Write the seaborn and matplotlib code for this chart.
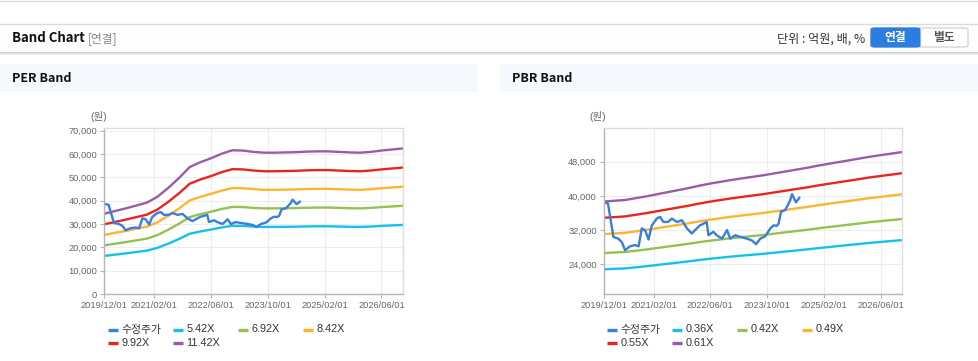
import pandas as pd
import matplotlib.pyplot as plt
import seaborn as sns
from matplotlib.lines import Line2D
from matplotlib.patches import Rectangle, FancyBboxPatch
from matplotlib.ticker import FuncFormatter

# ------------------------------
# Data
# ------------------------------
band_dates = pd.date_range("2019-12-01", "2026-12-01", freq="3MS")

# per-share base used by the bands (quarterly)
eps = [3010, 3110, 3210, 3320, 3430, 3650, 3980, 4350, 4760, 4940,
       5090, 5260, 5390, 5380, 5330, 5300, 5300, 5310, 5320, 5340,
       5350, 5350, 5330, 5310, 5300, 5330, 5380, 5420, 5460]
bps = [63400, 63700, 64000, 64700, 65400, 66200, 67000, 67800, 68600, 69500,
       70300, 71000, 71700, 72300, 72900, 73500, 74200, 74900, 75600, 76300,
       77100, 77800, 78500, 79200, 79900, 80600, 81200, 81800, 82400]

per_multiples = [5.42, 6.92, 8.42, 9.92, 11.42]
pbr_multiples = [0.36, 0.42, 0.49, 0.55, 0.61]

price_dates = ["2019-12-01", "2020-01-07", "2020-02-22", "2020-04-04", "2020-05-04",
               "2020-06-01", "2020-07-13", "2020-08-25", "2020-09-25", "2020-10-22",
               "2020-11-19", "2020-12-19", "2021-01-16", "2021-02-28", "2021-03-28",
               "2021-04-25", "2021-06-04", "2021-07-07", "2021-08-19", "2021-10-01",
               "2021-11-13", "2021-12-25", "2022-01-22", "2022-03-04", "2022-04-04",
               "2022-05-01", "2022-05-16", "2022-06-28", "2022-07-25", "2022-09-10",
               "2022-10-22", "2022-11-19", "2023-01-01", "2023-02-13", "2023-04-10",
               "2023-05-22", "2023-06-28", "2023-08-04", "2023-09-16", "2023-10-28",
               "2023-11-25", "2023-12-22", "2024-01-07", "2024-01-28", "2024-03-04",
               "2024-04-16", "2024-05-01", "2024-06-04", "2024-07-04"]
price = [38600, 38200, 30400, 30000, 29200, 27300, 28200, 28500, 28200, 32400,
         32000, 29800, 33100, 34700, 35100, 33900, 33900, 34700, 33900, 34300,
         32400, 31200, 32000, 33100, 33500, 33900, 30800, 31600, 30800, 30000,
         32000, 30000, 30800, 30400, 30000, 29600, 28700, 30000, 30600, 32400,
         33100, 33000, 33500, 36300, 36700, 39000, 40400, 38500, 39600]

tick_dates = ["2019-12-01", "2021-02-01", "2022-06-01", "2023-10-01", "2025-02-01", "2026-06-01"]
tick_labels = ["2019/12/01", "2021/02/01", "2022/06/01", "2023/10/01", "2025/02/01", "2026/06/01"]

band_colors = ["#17c0ea", "#93c24e", "#fdb42f", "#e8251d", "#9a5ba8"]
price_color = "#3a7ddc"

# ------------------------------
# Figure setup
# ------------------------------
sns.set_theme(style="white")
plt.rcParams["font.family"] = ["Liberation Sans", "Noto Sans CJK KR", "DejaVu Sans"]

W, H = 979, 361
fig = plt.figure(figsize=(W / 100, H / 100), dpi=100)


def fx(x):
    return x / W


def fy(y):
    return 1 - y / H


def rect(x0, y0, x1, y1, **kw):
    fig.add_artist(Rectangle((fx(x0), fy(y1)), fx(x1 - x0), (y1 - y0) / H,
                             transform=fig.transFigure, **kw))


# page chrome
fig.add_artist(Line2D([0, 1], [fy(0.5)] * 2, color="#dddddd", lw=1))
fig.add_artist(Line2D([0, 1], [fy(23.5)] * 2, color="#dcdcdc", lw=1))
rect(0, 24, W, 52, color="#fdfdfd", lw=0)
rect(0, 52, W, 53, color="#cfcfcf", lw=0)
rect(0, 53, W, 54, color="#e3e3e3", lw=0)
rect(0, 54, W, 55, color="#f1f1f1", lw=0)

hdr = ["Noto Sans CJK KR", "DejaVu Sans"]
fig.text(fx(12), fy(38), "Band Chart", family=hdr, weight="bold", size=9.5,
         color="#111111", va="center")
fig.text(fx(88), fy(39), "[연결]", family=hdr, size=8.5, color="#888888", va="center")
fig.text(fx(865), fy(39), "단위 : 억원, 배, %", family=hdr, size=8.7, color="#333333",
         va="center", ha="right")

fig.add_artist(FancyBboxPatch((fx(871), fy(47)), fx(97), 19 / H,
                              boxstyle="round,pad=0,rounding_size=0.004",
                              transform=fig.transFigure, fc="white", ec="#cccccc", lw=0.8))
fig.add_artist(FancyBboxPatch((fx(871), fy(47)), fx(49), 19 / H,
                              boxstyle="round,pad=0,rounding_size=0.004",
                              transform=fig.transFigure, fc="#2b7de1", ec="#2b7de1", lw=0.8))
fig.text(fx(895.5), fy(38), "연결", family=hdr, weight="bold", size=8.5, color="white",
         ha="center", va="center")
fig.text(fx(944), fy(38), "별도", family=hdr, weight="bold", size=8.5, color="#555555",
         ha="center", va="center")

# panel title bars
rect(0, 64, 478, 92, color="#f5f9fd", lw=0)
rect(500, 64, W, 92, color="#f5f9fd", lw=0)
fig.text(fx(12), fy(79), "PER Band", family=hdr, weight="bold", size=9, color="#111111",
         va="center")
fig.text(fx(512), fy(79), "PBR Band", family=hdr, weight="bold", size=9, color="#111111",
         va="center")


def band_frame(base, multiples):
    rows = []
    for m in multiples:
        for d, b in zip(band_dates, base):
            rows.append({"date": d, "value": b * m, "series": f"{m:.2f}X"})
    return pd.DataFrame(rows)


def draw_panel(left_px, base, multiples, ylim, yticks):
    ax = fig.add_axes([fx(left_px), fy(294), fx(298.5), 166 / H])
    bands = band_frame(base, multiples)
    labels = [f"{m:.2f}X" for m in multiples]
    sns.lineplot(data=bands, x="date", y="value", hue="series", hue_order=labels,
                 palette=band_colors, lw=1.7, legend=False, ax=ax)
    pr = pd.DataFrame({"date": pd.to_datetime(price_dates), "value": price})
    sns.lineplot(data=pr, x="date", y="value", color=price_color, lw=1.7, ax=ax)

    ax.set_xlim(pd.Timestamp("2019-12-01"), pd.Timestamp("2026-12-01"))
    ax.set_ylim(*ylim)
    ax.set_xticks(pd.to_datetime(tick_dates))
    ax.set_xticklabels(tick_labels)
    ax.set_yticks(yticks)
    ax.yaxis.set_major_formatter(FuncFormatter(lambda v, p: f"{int(v):,}"))
    ax.set_xlabel("")
    ax.set_ylabel("")
    ax.grid(True, color="#ededed", lw=0.8)
    for s in ["top", "right"]:
        ax.spines[s].set_color("#dddddd")
    for s in ["left", "bottom"]:
        ax.spines[s].set_color("#b5b5b5")
    for s in ax.spines.values():
        s.set_linewidth(1)
    ax.tick_params(axis="both", length=3, width=0.8, color="#b5b5b5", pad=2,
                   labelsize=6.7, labelcolor="#666666", left=True, bottom=True)

    fig.text(fx(left_px - 6), fy(117), "(원)", size=7.5, color="#666666",
             ha="center", va="center")

    # legend
    items = [("수정주가", price_color)] + list(zip(labels, band_colors))
    for i, (lab, col) in enumerate(items):
        x0 = left_px + 3.5 + 65 * (i % 4)
        y = 329.5 + 13.5 * (i // 4)
        fig.add_artist(Line2D([fx(x0), fx(x0 + 10)], [fy(y)] * 2, color=col, lw=2.4,
                              solid_capstyle="butt"))
        fig.text(fx(x0 + 13.5), fy(y), lab, size=7.8, color="#333333", va="center")
    return ax


draw_panel(104.3, eps, per_multiples, (0, 71100), range(0, 70001, 10000))
draw_panel(603.7, bps, pbr_multiples, (17050, 55880), range(24000, 48001, 8000))

plt.savefig("out.png", dpi=100)
